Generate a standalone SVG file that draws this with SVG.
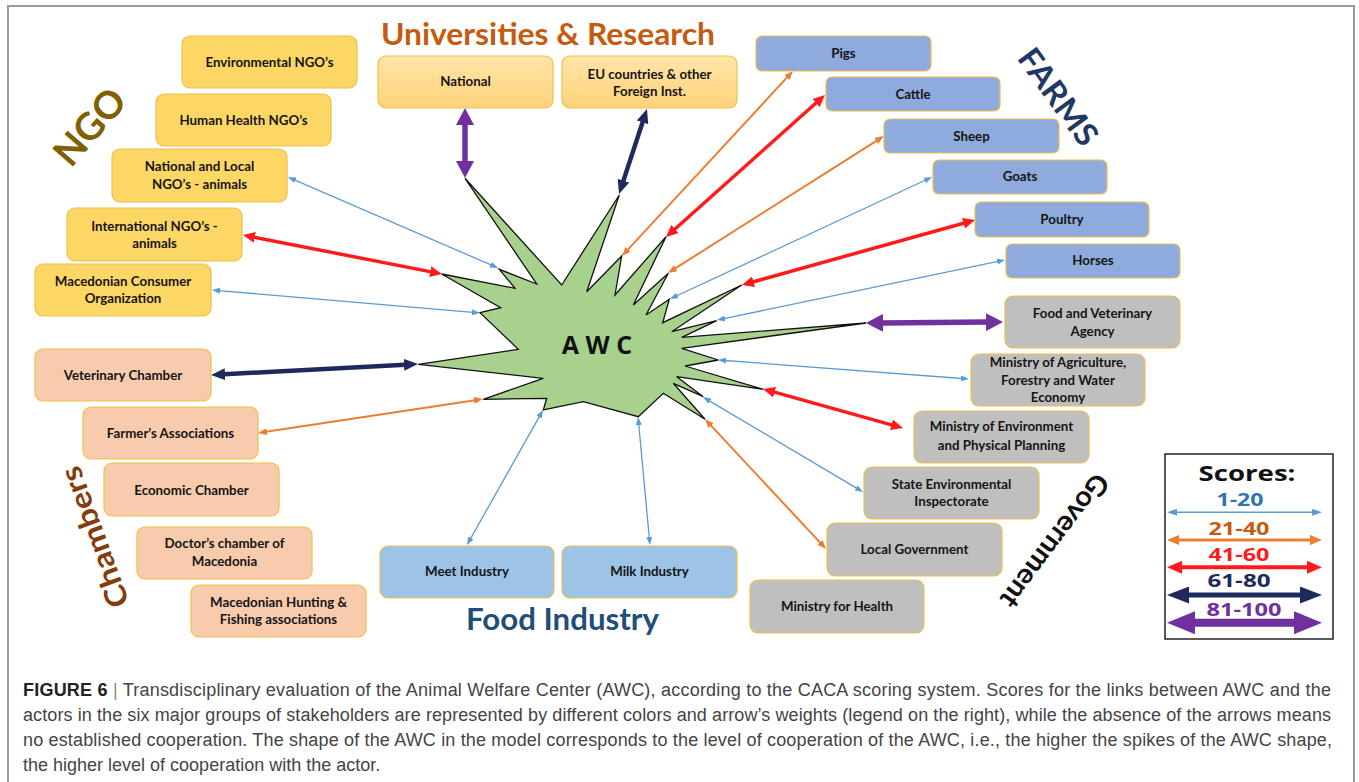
<svg xmlns="http://www.w3.org/2000/svg" width="1359" height="782" viewBox="0 0 1359 782">
<defs>
<style>
.lbl{font-family:Lato,"Open Sans","Liberation Sans",sans-serif;font-weight:700;font-size:13.3px;fill:#151515;text-anchor:middle}
.nd{stroke:#EDC04A;stroke-width:1.2}
.ngo{fill:#FCD766}
.uni{fill:url(#ug)}
.farm{fill:#8FAADC}
.gov{fill:#BFBFBF}
.cham{fill:#F8CBAD}
.food{fill:#9DC3E6}
.ttl{font-family:Lato,"Open Sans","Liberation Sans",sans-serif;font-weight:700;text-anchor:middle}
.c1{stroke:#5B9BD5;stroke-width:1.3;fill:none;marker-start:url(#h1);marker-end:url(#h1)}
.c2{stroke:#ED7D31;stroke-width:2;fill:none;marker-start:url(#h2);marker-end:url(#h2)}
.c3{stroke:#FF1B1B;stroke-width:3.5;fill:none;marker-start:url(#h3);marker-end:url(#h3)}
.c4{stroke:#1F2A5C;stroke-width:4.5;fill:none;marker-start:url(#h4);marker-end:url(#h4)}
.c5{stroke:#7030A0;stroke-width:5.5;fill:none;marker-start:url(#h5);marker-end:url(#h5)}
.l1{stroke:#5B9BD5;stroke-width:1.5;marker-start:url(#g1);marker-end:url(#g1)}
.l2{stroke:#ED7D31;stroke-width:3;marker-start:url(#g2);marker-end:url(#g2)}
.l3{stroke:#FF1B1B;stroke-width:4;marker-start:url(#g3);marker-end:url(#g3)}
.l4{stroke:#1F2A5C;stroke-width:5;marker-start:url(#g4);marker-end:url(#g4)}
.l5{stroke:#7030A0;stroke-width:8;marker-start:url(#g5);marker-end:url(#g5)}
.lg{font-family:"Open Sans",Lato,"Liberation Sans",sans-serif;font-weight:700;text-anchor:middle}
.cap{font-family:"Liberation Sans",Arial,sans-serif;font-size:18px;fill:#444}
</style>
<linearGradient id="ug" x1="0" y1="0" x2="0" y2="1">
<stop offset="0" stop-color="#FFE5A8"/>
<stop offset="1" stop-color="#FFD27A"/>
</linearGradient>
<marker id="h1" viewBox="0 0 8 6" refX="1" refY="3" markerWidth="8" markerHeight="6" markerUnits="userSpaceOnUse" orient="auto-start-reverse"><path d="M0,0 L8,3 L0,6 z" fill="#5B9BD5"/></marker>
<marker id="h2" viewBox="0 0 9 7" refX="1" refY="3.5" markerWidth="9" markerHeight="7" markerUnits="userSpaceOnUse" orient="auto-start-reverse"><path d="M0,0 L9,3.5 L0,7 z" fill="#ED7D31"/></marker>
<marker id="h3" viewBox="0 0 12 11" refX="1" refY="5.5" markerWidth="12" markerHeight="11" markerUnits="userSpaceOnUse" orient="auto-start-reverse"><path d="M0,0 L12,5.5 L0,11 z" fill="#FF1B1B"/></marker>
<marker id="h4" viewBox="0 0 14 12" refX="1" refY="6" markerWidth="14" markerHeight="12" markerUnits="userSpaceOnUse" orient="auto-start-reverse"><path d="M0,0 L14,6 L0,12 z" fill="#1F2A5C"/></marker>
<marker id="h5" viewBox="0 0 17 18" refX="1" refY="9" markerWidth="17" markerHeight="18" markerUnits="userSpaceOnUse" orient="auto-start-reverse"><path d="M0,0 L17,9 L0,18 z" fill="#7030A0"/></marker>
<marker id="g1" viewBox="0 0 10 7" refX="1" refY="3.5" markerWidth="10" markerHeight="7" markerUnits="userSpaceOnUse" orient="auto-start-reverse"><path d="M0,0 L10,3.5 L0,7 z" fill="#5B9BD5"/></marker>
<marker id="g2" viewBox="0 0 12 10" refX="1" refY="5" markerWidth="12" markerHeight="10" markerUnits="userSpaceOnUse" orient="auto-start-reverse"><path d="M0,0 L12,5 L0,10 z" fill="#ED7D31"/></marker>
<marker id="g3" viewBox="0 0 15 13" refX="1" refY="6.5" markerWidth="15" markerHeight="13" markerUnits="userSpaceOnUse" orient="auto-start-reverse"><path d="M0,0 L15,6.5 L0,13 z" fill="#FF1B1B"/></marker>
<marker id="g4" viewBox="0 0 22 17" refX="1" refY="8.5" markerWidth="22" markerHeight="17" markerUnits="userSpaceOnUse" orient="auto-start-reverse"><path d="M0,0 L22,8.5 L0,17 z" fill="#1F2A5C"/></marker>
<marker id="g5" viewBox="0 0 28 23" refX="1" refY="11.5" markerWidth="28" markerHeight="23" markerUnits="userSpaceOnUse" orient="auto-start-reverse"><path d="M0,0 L28,11.5 L0,23 z" fill="#7030A0"/></marker>
</defs>

<rect x="0" y="0" width="1359" height="782" fill="#ffffff"/>
<rect x="8" y="6" width="1346" height="800" fill="none" stroke="#9a9a9a" stroke-width="2"/>

<g id="awc">
<polygon points="418.3,364.3 518.3,349.3 480,312.7 500.7,307.7 441.7,274 515,288.3 499.3,269.3 536.7,284 465,178.3 561.7,285 619.3,195 586.7,291.7 621.7,256 615,295 666,236.7 633.3,305 668.3,273.3 646,315 669.3,299.3 662.7,322.7 741.7,285 671.7,331.7 716.7,320.7 681.7,337.3 866,323 681.7,348.3 718.3,360 685,366 763.3,389.3 676.7,376.7 703.3,396.7 673.3,383.3 705,419.3 663.3,393.3 638.3,416.7 583.3,401.7 543.3,410 546.7,398.3 483.3,399.3 543.3,378.3" fill="#A9D18E" stroke="#111" stroke-width="1.3" stroke-linejoin="miter"/>
<text x="597" y="354" font-family="'Open Sans',Lato,sans-serif" font-weight="700" font-size="25" fill="#111" text-anchor="middle">A W C</text>
</g>

<g id="connectors">
<line class="c5" x1="465" y1="162" x2="465" y2="124"/>
<line class="c4" x1="623.1" y1="181.6" x2="642.9" y2="121.4"/>
<line class="c2" x1="627.4" y1="250.1" x2="787.6" y2="76.9"/>
<line class="c3" x1="674.2" y1="229.7" x2="816.8" y2="102.3"/>
<line class="c2" x1="674.8" y1="268.7" x2="877.2" y2="140.3"/>
<line class="c1" x1="676.3" y1="296" x2="925.7" y2="180"/>
<line class="c3" x1="752.6" y1="282" x2="964.4" y2="223"/>
<line class="c1" x1="723.9" y1="318.6" x2="998.1" y2="261.4"/>
<line class="c5" x1="882" y1="322.9" x2="987" y2="322.1"/>
<line class="c1" x1="725" y1="360.5" x2="962" y2="378.5"/>
<line class="c3" x1="773.6" y1="391.9" x2="892.4" y2="425.1"/>
<line class="c1" x1="709" y1="400.6" x2="857" y2="488.4"/>
<line class="c2" x1="710.4" y1="424.9" x2="820.6" y2="543.1"/>
<line class="c1" x1="638.7" y1="424" x2="649.3" y2="538"/>
<line class="c1" x1="539.6" y1="416.1" x2="470.4" y2="538.9"/>
<line class="c2" x1="475.1" y1="400.2" x2="265.9" y2="431.8"/>
<line class="c4" x1="405" y1="364.7" x2="224" y2="374.3"/>
<line class="c1" x1="473" y1="312.4" x2="219" y2="290.6"/>
<line class="c3" x1="431.2" y1="271.9" x2="253.8" y2="237.1"/>
<line class="c1" x1="491.6" y1="265.2" x2="294.4" y2="179.8"/>
</g>

<g id="ngo-env"><rect class="nd ngo" x="182" y="36" width="175" height="52" rx="8"/><text class="lbl" x="269.5" y="67.3">Environmental NGO’s</text></g>
<g id="ngo-health"><rect class="nd ngo" x="156" y="94" width="175" height="52" rx="8"/><text class="lbl" x="243.5" y="124.6">Human Health NGO’s</text></g>
<g id="ngo-natl"><rect class="nd ngo" x="112" y="149" width="175" height="53" rx="8"/><text class="lbl" x="199.5" y="171.3">National and Local</text><text class="lbl" x="199.5" y="188.6">NGO’s - animals</text></g>
<g id="ngo-intl"><rect class="nd ngo" x="67" y="208" width="175" height="53" rx="8"/><text class="lbl" x="154.5" y="230.6">International NGO’s -</text><text class="lbl" x="154.5" y="247.9">animals</text></g>
<g id="ngo-mcon"><rect class="nd ngo" x="35" y="264" width="176" height="52" rx="8"/><text class="lbl" x="123" y="285.6">Macedonian Consumer</text><text class="lbl" x="123" y="302.9">Organization</text></g>

<g id="ch-vet"><rect class="nd cham" x="35" y="349" width="176" height="52" rx="8"/><text class="lbl" x="123" y="380.3">Veterinary Chamber</text></g>
<g id="ch-farm"><rect class="nd cham" x="83" y="407" width="175" height="52" rx="8"/><text class="lbl" x="170.5" y="437.9">Farmer’s Associations</text></g>
<g id="ch-econ"><rect class="nd cham" x="104" y="463" width="175" height="53" rx="8"/><text class="lbl" x="191.5" y="494.6">Economic  Chamber</text></g>
<g id="ch-doc"><rect class="nd cham" x="137" y="527" width="175" height="52" rx="8"/><text class="lbl" x="224.5" y="547.9">Doctor’s chamber of</text><text class="lbl" x="224.5" y="565.6">Macedonia</text></g>
<g id="ch-hunt"><rect class="nd cham" x="191" y="585" width="175" height="52" rx="8"/><text class="lbl" x="278.5" y="606.9">Macedonian Hunting &amp;</text><text class="lbl" x="278.5" y="623.9">Fishing associations</text></g>

<g id="uni-natl"><rect class="nd uni" x="378" y="56" width="175" height="52" rx="8"/><text class="lbl" x="465.5" y="86.3">National</text></g>
<g id="uni-eu"><rect class="nd uni" x="562" y="56" width="175" height="52" rx="8"/><text class="lbl" x="649.5" y="78.6">EU countries &amp; other</text><text class="lbl" x="649.5" y="96.3">Foreign Inst.</text></g>

<g id="farm-pigs"><rect class="nd farm" x="756" y="36" width="175" height="35" rx="6"/><text class="lbl" x="843.5" y="57.9">Pigs</text></g>
<g id="farm-cattle"><rect class="nd farm" x="826" y="77" width="174" height="34" rx="6"/><text class="lbl" x="913" y="98.6">Cattle</text></g>
<g id="farm-sheep"><rect class="nd farm" x="884" y="119" width="175" height="34" rx="6"/><text class="lbl" x="971.5" y="140.6">Sheep</text></g>
<g id="farm-goats"><rect class="nd farm" x="933" y="160" width="174" height="34" rx="6"/><text class="lbl" x="1020" y="181.3">Goats</text></g>
<g id="farm-poultry"><rect class="nd farm" x="975" y="202" width="174" height="35" rx="6"/><text class="lbl" x="1062" y="223.9">Poultry</text></g>
<g id="farm-horses"><rect class="nd farm" x="1006" y="244" width="174" height="34" rx="6"/><text class="lbl" x="1093" y="265.3">Horses</text></g>

<g id="gov-fva"><rect class="nd gov" x="1005" y="296" width="175" height="52" rx="8"/><text class="lbl" x="1092.5" y="317.9">Food and Veterinary</text><text class="lbl" x="1092.5" y="335.6">Agency</text></g>
<g id="gov-agri"><rect class="nd gov" x="971" y="354" width="174" height="52" rx="8"/><text class="lbl" x="1058" y="367.3">Ministry of Agriculture,</text><text class="lbl" x="1058" y="384.6">Forestry and Water</text><text class="lbl" x="1058" y="401.9">Economy</text></g>
<g id="gov-env"><rect class="nd gov" x="914" y="411" width="175" height="52" rx="8"/><text class="lbl" x="1001.5" y="431.3">Ministry of Environment</text><text class="lbl" x="1001.5" y="449.6">and Physical Planning</text></g>
<g id="gov-state"><rect class="nd gov" x="864" y="467" width="175" height="52" rx="8"/><text class="lbl" x="951.5" y="488.6">State Environmental</text><text class="lbl" x="951.5" y="506.3">Inspectorate</text></g>
<g id="gov-local"><rect class="nd gov" x="827" y="523" width="175" height="53" rx="8"/><text class="lbl" x="914.5" y="553.6">Local Government</text></g>
<g id="gov-health"><rect class="nd gov" x="750" y="580" width="174" height="53" rx="8"/><text class="lbl" x="837" y="610.6">Ministry for Health</text></g>

<g id="food-meet"><rect class="nd food" x="380" y="546" width="174" height="52" rx="8"/><text class="lbl" x="467" y="576.3">Meet Industry</text></g>
<g id="food-milk"><rect class="nd food" x="562" y="546" width="175" height="52" rx="8"/><text class="lbl" x="649.5" y="576.3">Milk Industry</text></g>

<g id="titles">
<text class="ttl" x="548" y="45" font-size="30" fill="#C55A11" textLength="334" lengthAdjust="spacingAndGlyphs">Universities &amp; Research</text>
<text class="ttl" x="562.5" y="629.5" font-size="30" fill="#1F4E79" textLength="193" lengthAdjust="spacingAndGlyphs">Food Industry</text>
<text class="ttl" transform="translate(1058,97) rotate(54)" x="0" y="11" font-size="32" fill="#1F3864" textLength="112" lengthAdjust="spacingAndGlyphs">FARMS</text>
<text class="ttl" transform="translate(90,127) rotate(-49)" x="0" y="13" font-size="38" fill="#806000" textLength="88" lengthAdjust="spacingAndGlyphs">NGO</text>
<text class="ttl" transform="translate(95,537) rotate(-110)" x="0" y="10" font-size="30" fill="#843C0C" textLength="148" lengthAdjust="spacingAndGlyphs">Chambers</text>
<text class="ttl" transform="translate(1055,541) rotate(127)" x="0" y="10" font-size="28" fill="#111" textLength="160" lengthAdjust="spacingAndGlyphs">Government</text>
</g>

<g id="legend">
<rect x="1165" y="454" width="168" height="185" fill="#fff" stroke="#222" stroke-width="1.5"/>
<text class="lg" x="1247" y="481" font-size="22" fill="#111" textLength="97" lengthAdjust="spacingAndGlyphs">Scores:</text>
<text class="lg" x="1240" y="506" font-size="17" fill="#2E75B6" textLength="47" lengthAdjust="spacingAndGlyphs">1-20</text>
<line class="l1" x1="1176" y1="512.3" x2="1313" y2="512.3"/>
<text class="lg" x="1239" y="535" font-size="18" fill="#C55A11" textLength="61" lengthAdjust="spacingAndGlyphs">21-40</text>
<line class="l2" x1="1178" y1="540" x2="1311" y2="540"/>
<text class="lg" x="1239" y="561" font-size="18" fill="#FF1B1B" textLength="61" lengthAdjust="spacingAndGlyphs">41-60</text>
<line class="l3" x1="1181" y1="567.3" x2="1308" y2="567.3"/>
<text class="lg" x="1239" y="587" font-size="18" fill="#1F2A5C" textLength="63" lengthAdjust="spacingAndGlyphs">61-80</text>
<line class="l4" x1="1188" y1="595" x2="1301" y2="595"/>
<text class="lg" x="1244" y="616" font-size="18" fill="#7030A0" textLength="75" lengthAdjust="spacingAndGlyphs">81-100</text>
<line class="l5" x1="1194" y1="622.7" x2="1295" y2="622.7"/>
</g>

<g id="caption">
<text class="cap" x="23" y="696" textLength="1308" lengthAdjust="spacing"><tspan font-weight="700" fill="#222">FIGURE 6</tspan><tspan fill="#888"> | </tspan>Transdisciplinary evaluation of the Animal Welfare Center (AWC), according to the CACA scoring system. Scores for the links between AWC and the</text>
<text class="cap" x="23" y="721" textLength="1308" lengthAdjust="spacing">actors in the six major groups of stakeholders are represented by different colors and arrow’s weights (legend on the right), while the absence of the arrows means</text>
<text class="cap" x="23" y="746" textLength="1309" lengthAdjust="spacing">no established cooperation. The shape of the AWC in the model corresponds to the level of cooperation of the AWC, i.e., the higher the spikes of the AWC shape,</text>
<text class="cap" x="23" y="771">the higher level of cooperation with the actor.</text>
</g>
</svg>
